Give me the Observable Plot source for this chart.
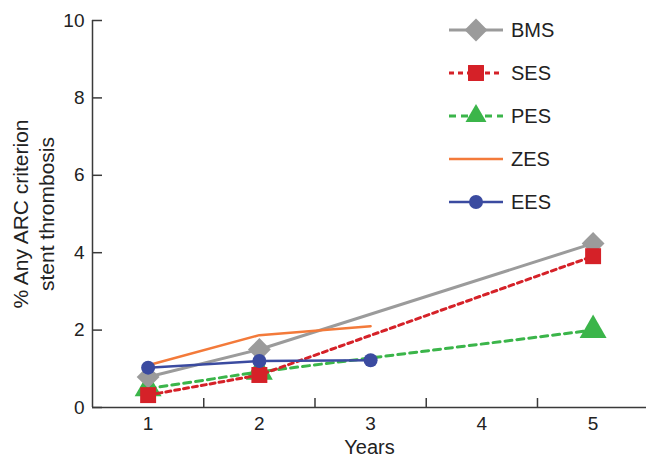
<!DOCTYPE html>
<html><head><meta charset="utf-8">
<script src="https://cdn.jsdelivr.net/npm/d3@7"></script>
<script src="https://cdn.jsdelivr.net/npm/@observablehq/plot@0.6"></script>
<style>
body{margin:0;background:#fff}
#chart{position:relative;width:646px;height:458px;font-family:"Liberation Sans",Arial,Helvetica,sans-serif}
#legend{position:absolute;left:0;top:0;pointer-events:none}
</style>
</head><body><div id="chart"></div>
<script>
// ---- data ----
const seriesNames = ["BMS", "SES", "PES", "ZES", "EES"];
const bmsYears = [1, 2, 5];
const bmsValues = [0.79, 1.5, 4.24];
const sesYears = [1, 2, 5];
const sesValues = [0.32, 0.84, 3.91];
const pesYears = [1, 2, 5];
const pesValues = [0.49, 0.92, 2.0];
const zesYears = [1, 2, 3];
const zesValues = [1.09, 1.87, 2.1];
const eesYears = [1, 2, 3];
const eesValues = [1.03, 1.2, 1.22];
const xTickLabels = [1, 2, 3, 4, 5];
const xTickMarks = [1.5, 2.5, 3.5, 4.5];
const yTicks = [0, 2, 4, 6, 8, 10];
const xLabel = "Years";
const yLabel = "% Any ARC criterion\nstent thrombosis";

// ---- styles ----
const styles = {
  BMS: {color: "#9b9b9b", dash: null, width: 3, symbol: "diamond2", r: 10.3, markers: true},
  SES: {color: "#d52128", dash: "5,4", width: 3, symbol: "square", r: 9, markers: true},
  PES: {color: "#3bb54a", dash: "7,5", width: 3, symbol: "triangle", r: 10, markers: true},
  ZES: {color: "#f37a3a", dash: null, width: 2.5, symbol: "circle", r: 0, markers: false},
  EES: {color: "#3b4ba0", dash: null, width: 2.5, symbol: "circle", r: 7, markers: true}
};
const seriesData = {
  BMS: [bmsYears, bmsValues], SES: [sesYears, sesValues], PES: [pesYears, pesValues],
  ZES: [zesYears, zesValues], EES: [eesYears, eesValues]
};
const rowsOf = name => seriesData[name][0].map((x, i) => ({series: name, year: x, value: seriesData[name][1][i]}));

const drawOrder = ["PES", "BMS", "ZES", "SES", "EES"];
const axisColor = "#3a3a3a";
const seriesMarks = drawOrder.flatMap(name => {
  const s = styles[name];
  const data = rowsOf(name);
  const m = [Plot.line(data, {x: "year", y: "value", stroke: s.color, strokeWidth: s.width, strokeDasharray: s.dash})];
  if (s.markers) m.push(Plot.dot(data, {x: "year", y: "value", fill: s.color, symbol: s.symbol, r: s.r}));
  return m;
});

const chart = Plot.plot({
  width: 646, height: 458,
  marginLeft: 92, marginRight: 0, marginTop: 20, marginBottom: 51,
  x: {domain: [0.5, 5.48], axis: null, label: null},
  y: {domain: [0, 10], axis: null, label: null},
  style: {fontFamily: '"Liberation Sans",Arial,Helvetica,sans-serif', fontSize: "20px", color: "#222", background: "white", overflow: "visible"},
  marks: [
    ...seriesMarks,
    Plot.ruleY([0], {stroke: axisColor, strokeWidth: 1.5}),
    Plot.ruleX([0.5], {stroke: axisColor, strokeWidth: 1.5}),
    Plot.axisY(yTicks, {tickSize: 10, dx: 10, stroke: axisColor, strokeWidth: 1.5, fill: "none", label: null}),
    Plot.axisY(yTicks, {tickSize: 0, tickPadding: 8, fontSize: 19, fill: "#222", label: null}),
    Plot.axisX(xTickMarks, {tickSize: 9, dy: -9, stroke: axisColor, strokeWidth: 1.5, fill: "none", label: null}),
    Plot.axisX(xTickLabels, {tickSize: 0, tickPadding: 9, fontSize: 19, fill: "#222", label: null}),
    Plot.text([xLabel], {frameAnchor: "bottom", dy: 40, fontSize: 20, fill: "#222", lineAnchor: "middle"}),
    Plot.text([yLabel], {frameAnchor: "left", rotate: -90, dx: -60, lineHeight: 1.24, fontSize: 21, fill: "#222", lineAnchor: "middle", textAnchor: "middle"})
  ]
});
const container = document.getElementById("chart");
container.appendChild(chart);

// ---- legend ----
const legend = d3.select(container).append("svg").attr("id", "legend").attr("width", 646).attr("height", 458);
const symbolMap = {diamond2: d3.symbolDiamond2, square: d3.symbolSquare, triangle: d3.symbolTriangle2, circle: d3.symbolCircle};
seriesNames.forEach((name, i) => {
  const s = styles[name];
  const g = legend.append("g").attr("transform", `translate(0,${30 + 43 * i})`);
  g.append("line").attr("x1", 449).attr("x2", 503).attr("y1", 0).attr("y2", 0)
    .attr("stroke", s.color).attr("stroke-width", s.width).attr("stroke-dasharray", s.dash);
  if (s.markers) {
    g.append("path").attr("transform", "translate(476,0)")
      .attr("d", d3.symbol(symbolMap[s.symbol], Math.PI * s.r * s.r)()).attr("fill", s.color);
  }
  g.append("text").attr("x", 511).attr("y", 0).attr("dy", "0.36em")
    .attr("font-size", 20).attr("fill", "#222").text(name);
});
</script>
</body></html>
